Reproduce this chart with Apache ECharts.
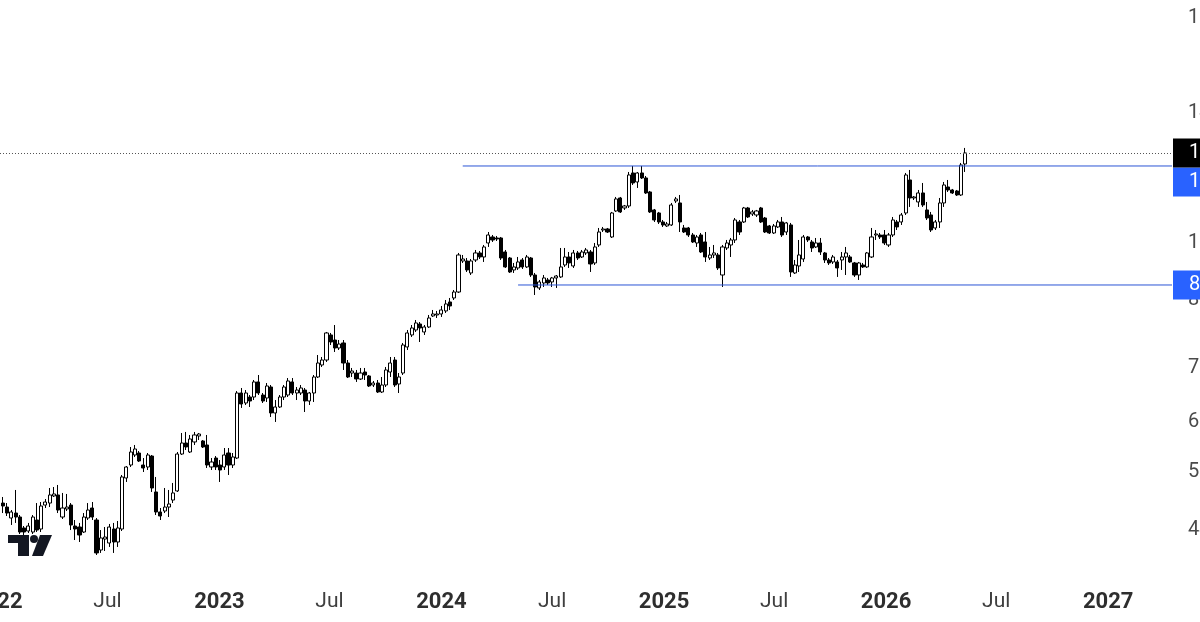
<!DOCTYPE html>
<html>
<head>
<meta charset="utf-8">
<title>Weekly candles</title>
<script src="https://cdn.jsdelivr.net/npm/echarts@6.0.0/dist/echarts.min.js"></script>
<style>
    html, body { margin: 0; padding: 0; background: #ffffff; }
    #chart { width: 1200px; height: 622px; }
</style>
</head>
<body>
<div id="chart"></div>
<script>
//--------------------------------
// Data (weekly bars, first bar = week of 2022-01-10)
//--------------------------------
const firstWeek = [2022, 0, 10];

const opens = [
    47.57, 47.03, 45.58, 46.23, 45.71, 44.30, 43.92, 43.79, 45.32, 44.17,
    47.30, 47.57, 48.54, 48.68, 45.71, 46.77, 47.30, 44.55, 44.42, 43.79,
    45.58, 46.90, 45.32, 41.60, 42.92, 42.44, 44.17, 42.56, 44.17, 51.10,
    53.03, 54.57, 54.88, 53.03, 52.73, 54.41, 49.10, 46.37, 46.50, 47.03,
    47.98, 49.24, 54.72, 56.47, 55.04, 56.64, 57.62, 56.80, 56.15, 52.73,
    54.10, 53.03, 52.73, 54.88, 53.03, 54.10, 65.14, 63.31, 64.40, 64.40,
    67.23, 64.77, 64.22, 66.27, 61.53, 62.59, 64.40, 64.77, 67.23, 65.14,
    65.14, 65.70, 63.67, 65.14, 68.19, 70.57, 71.58, 76.89, 75.79, 74.08,
    75.15, 70.97, 68.97, 68.97, 67.80, 69.17, 68.39, 66.65, 67.03, 65.33,
    66.65, 69.17, 71.58, 66.84, 68.97, 74.30, 76.89, 77.99, 79.34, 77.55,
    78.66, 81.18, 81.41, 81.64, 82.35, 84.49, 85.46, 86.93, 94.99, 94.99,
    91.79, 95.26, 97.19, 96.08, 100.00, 101.73, 101.44, 101.44, 97.46, 95.80,
    92.58, 93.11, 95.26, 93.38, 95.80, 91.26, 87.94, 89.20, 89.97, 89.46,
    90.49, 90.75, 93.91, 96.08, 93.64, 97.19, 96.08, 97.19, 97.46, 94.45,
    99.43, 103.78, 104.08, 101.73, 109.58, 113.72, 110.52, 111.15, 122.14, 119.04,
    122.14, 120.41, 115.69, 109.89, 108.95, 106.19, 104.98, 105.28, 112.75, 112.11,
    104.38, 104.38, 102.31, 100.00, 102.31, 100.29, 95.80, 96.63, 96.63, 91.26,
    98.58, 99.43, 100.86, 106.19, 106.19, 110.52, 108.64, 108.33, 110.52, 107.40,
    104.98, 102.90, 104.68, 106.19, 103.19, 105.28, 91.79, 93.64, 95.53, 101.73,
    100.29, 98.87, 100.00, 97.19, 95.26, 94.72, 94.72, 95.26, 96.08, 96.08,
    94.45, 91.26, 93.91, 93.38, 96.08, 102.31, 102.31, 102.31, 99.43, 102.31,
    106.19, 106.19, 108.95, 119.72, 113.72, 112.43, 115.36, 109.89, 108.33, 104.38,
    106.19, 112.11, 117.35, 116.35, 116.02, 114.70, 125.32
];
const closes = [
    47.17, 46.23, 46.37, 45.71, 43.79, 43.79, 44.55, 45.71, 44.04, 47.17,
    47.71, 48.68, 48.82, 46.63, 46.90, 47.03, 44.68, 44.17, 43.42, 45.71,
    46.63, 45.71, 41.25, 43.05, 43.17, 44.42, 42.56, 44.30, 51.25, 52.73,
    55.04, 55.51, 53.64, 52.58, 54.57, 49.66, 46.37, 45.84, 47.03, 47.44,
    48.96, 54.72, 56.47, 55.83, 57.12, 57.78, 57.94, 55.83, 53.03, 53.49,
    52.73, 52.28, 54.57, 53.03, 54.26, 65.14, 63.13, 65.14, 63.67, 67.23,
    65.14, 63.67, 66.46, 61.53, 62.59, 64.40, 66.27, 67.42, 65.14, 65.70,
    66.08, 63.67, 65.14, 68.19, 70.97, 71.58, 77.33, 75.36, 74.08, 74.93,
    70.97, 68.19, 69.37, 67.80, 68.97, 68.58, 66.46, 67.03, 65.33, 66.65,
    69.57, 70.97, 66.65, 68.19, 74.72, 77.33, 78.44, 79.57, 78.44, 78.66,
    80.71, 81.64, 81.64, 82.58, 84.01, 83.53, 86.93, 96.63, 95.53, 92.58,
    94.99, 97.19, 96.08, 98.87, 102.31, 100.86, 101.15, 95.80, 93.38, 92.05,
    93.38, 94.72, 93.38, 96.08, 91.26, 88.19, 89.46, 90.49, 89.20, 90.49,
    91.00, 93.38, 96.08, 94.45, 97.19, 95.80, 97.46, 98.02, 94.18, 98.87,
    103.19, 104.08, 103.19, 108.95, 113.40, 109.27, 111.15, 121.44, 118.70, 122.14,
    120.41, 115.36, 109.27, 106.79, 106.19, 105.28, 105.58, 111.47, 113.40, 106.19,
    103.19, 102.31, 100.29, 101.73, 97.46, 96.08, 96.63, 97.19, 93.11, 98.87,
    100.00, 100.86, 106.79, 103.19, 110.52, 107.71, 109.27, 109.58, 106.19, 103.19,
    102.90, 104.98, 106.19, 102.31, 105.89, 92.05, 93.91, 96.63, 101.73, 100.86,
    98.58, 100.00, 97.46, 95.26, 94.45, 96.08, 93.11, 96.08, 97.19, 94.72,
    91.26, 94.45, 93.38, 97.19, 101.73, 102.60, 101.73, 100.00, 102.31, 106.79,
    104.68, 108.33, 121.44, 113.72, 114.05, 115.36, 111.47, 107.40, 103.78, 106.19,
    112.11, 118.02, 116.35, 115.36, 114.70, 124.96, 129.33
];
const lows = [
    46.23, 45.84, 44.68, 44.94, 43.54, 43.42, 43.67, 43.54, 43.79, 43.79,
    46.90, 47.03, 48.40, 46.23, 45.45, 46.50, 44.04, 42.80, 42.56, 43.67,
    45.32, 45.32, 41.01, 41.25, 41.48, 41.96, 41.25, 41.96, 43.92, 50.52,
    52.73, 54.26, 53.49, 51.98, 52.28, 49.10, 45.97, 45.32, 46.23, 45.71,
    47.57, 49.10, 54.57, 55.35, 54.88, 56.15, 56.96, 55.67, 52.58, 52.28,
    52.28, 50.52, 52.28, 51.54, 52.58, 53.95, 62.42, 62.95, 62.59, 63.85,
    64.77, 63.31, 63.49, 60.83, 59.97, 62.42, 63.85, 64.40, 64.77, 63.85,
    64.77, 61.70, 62.95, 63.49, 67.99, 70.17, 71.18, 74.72, 73.24, 73.66,
    69.57, 67.99, 68.19, 67.23, 67.61, 67.61, 66.27, 66.27, 65.14, 65.14,
    66.27, 68.19, 66.27, 65.14, 68.58, 73.66, 76.45, 77.55, 75.36, 76.89,
    78.44, 80.95, 80.71, 80.95, 81.88, 82.58, 84.97, 86.69, 94.45, 92.05,
    91.26, 94.72, 95.53, 94.72, 98.87, 100.29, 100.57, 95.26, 93.11, 91.79,
    91.79, 92.58, 92.84, 93.11, 90.75, 86.19, 87.43, 88.19, 88.69, 88.19,
    87.94, 90.49, 93.38, 93.11, 93.11, 95.26, 95.80, 96.63, 92.05, 93.91,
    98.87, 103.19, 102.90, 101.44, 109.27, 108.95, 109.89, 110.52, 118.02, 117.02,
    120.06, 115.03, 108.95, 106.19, 105.58, 104.68, 104.68, 104.98, 112.11, 103.19,
    102.90, 101.73, 100.00, 98.87, 97.19, 94.72, 95.26, 95.80, 92.58, 88.19,
    98.02, 96.08, 100.00, 102.31, 105.89, 107.40, 108.02, 107.71, 105.89, 102.90,
    102.60, 102.60, 104.38, 101.73, 102.31, 90.75, 91.53, 92.05, 94.72, 100.29,
    97.46, 98.58, 96.63, 94.45, 93.91, 94.18, 90.75, 92.58, 91.26, 94.45,
    90.75, 89.97, 93.11, 93.11, 95.80, 100.86, 101.15, 99.43, 98.87, 101.73,
    103.78, 105.28, 108.33, 110.84, 113.07, 110.84, 110.84, 106.79, 103.19, 103.78,
    104.38, 110.84, 115.69, 115.03, 114.37, 114.37, 122.49
];
const highs = [
    48.40, 47.57, 46.63, 49.38, 45.97, 44.55, 44.94, 45.97, 47.57, 47.71,
    48.12, 49.66, 49.80, 50.09, 48.96, 48.82, 47.57, 45.32, 44.94, 46.23,
    47.57, 47.71, 45.58, 44.04, 44.42, 44.81, 44.94, 45.19, 51.54, 52.88,
    55.83, 56.15, 55.19, 54.10, 54.88, 54.57, 51.25, 46.90, 49.66, 49.38,
    50.38, 55.04, 58.11, 58.28, 57.78, 58.28, 58.11, 56.96, 57.78, 54.10,
    54.41, 53.79, 55.67, 55.67, 54.88, 65.51, 66.08, 65.70, 64.77, 67.61,
    68.58, 65.14, 67.03, 66.65, 63.85, 64.77, 66.65, 67.99, 67.99, 66.27,
    66.65, 66.08, 65.33, 68.58, 72.61, 72.20, 77.55, 77.33, 79.11, 75.79,
    75.79, 71.58, 69.97, 69.57, 69.97, 69.97, 68.58, 67.42, 67.61, 68.19,
    70.17, 72.20, 72.20, 68.97, 75.15, 77.99, 79.11, 80.25, 79.79, 79.11,
    81.41, 82.58, 82.35, 83.53, 84.97, 85.46, 87.43, 97.19, 96.63, 95.80,
    95.53, 98.02, 97.74, 99.43, 103.19, 102.31, 102.02, 101.73, 98.02, 96.08,
    94.45, 96.08, 95.80, 96.63, 96.08, 91.79, 89.97, 91.26, 90.49, 90.75,
    91.26, 98.58, 98.58, 97.46, 98.02, 97.74, 98.02, 98.58, 98.02, 100.00,
    104.38, 104.68, 104.38, 109.27, 114.05, 114.05, 111.47, 122.49, 124.61, 122.49,
    124.61, 121.09, 116.02, 110.20, 109.27, 106.79, 106.19, 112.11, 114.05, 114.70,
    105.28, 104.68, 102.90, 102.31, 102.90, 103.19, 98.87, 99.43, 97.19, 99.43,
    100.86, 101.44, 107.40, 106.79, 110.84, 110.84, 109.89, 109.89, 110.84, 107.71,
    105.28, 105.58, 106.79, 107.71, 106.19, 105.89, 95.26, 100.86, 102.31, 102.02,
    100.86, 101.44, 101.44, 97.46, 95.80, 96.63, 95.26, 97.46, 98.87, 96.63,
    94.72, 94.72, 94.45, 97.46, 104.38, 103.78, 102.90, 103.78, 102.90, 107.71,
    106.79, 108.95, 122.14, 123.19, 114.37, 116.35, 118.70, 112.43, 109.27, 106.79,
    113.72, 119.04, 119.72, 116.69, 116.35, 125.68, 131.19
];

// horizontal levels drawn on the chart
const resistanceLevel = 124.6;
const resistanceStart = [2024, 1, 5];
const supportLevel = 88.69;
const supportStart = [2024, 4, 6];

// axis labels
const priceTicks = [44, 52, 60, 70, 85, 100, 145, 190];
const timeTicks = [
    [2022, 0, 1], [2022, 6, 1], [2023, 0, 1], [2023, 6, 1], [2024, 0, 1], [2024, 6, 1],
    [2025, 0, 1], [2025, 6, 1], [2026, 0, 1], [2026, 6, 1], [2027, 0, 1]
];
const monthNames = ['Jan', 'Feb', 'Mar', 'Apr', 'May', 'Jun', 'Jul', 'Aug', 'Sep', 'Oct', 'Nov', 'Dec'];

// visible window
const xStart = [2021, 10, 17];
const xEnd = [2027, 3, 16];
const yMin = 37.64;
const yMax = 200.2;

//--------------------------------
// Build series data
//--------------------------------
const ts = (d) => new Date(d[0], d[1], d[2]).getTime();

const weekDates = opens.map((_, i) => ts([firstWeek[0], firstWeek[1], firstWeek[2] + 7 * i]));
const candles = opens.map((o, i) => [weekDates[i], o, closes[i], lows[i], highs[i]]);
const lastClose = closes[closes.length - 1];

const fontFamily = 'Roboto, "Liberation Sans", sans-serif';
const levelBlue = '#2962ff';
const levelLineColor = '#2b55d6';

const priceTag = (text, bg) => ({
    show: true,
    formatter: text,
    color: '#ffffff',
    backgroundColor: bg,
    fontSize: 20,
    fontFamily: fontFamily,
    lineHeight: 21,
    padding: [4, 8, 4, 16]
});

// one horizontal level as a two point line series
const levelSeries = (name, start, level, tagOffset) => ({
    name: name,
    type: 'line',
    silent: true,
    symbol: 'none',
    data: [[ts(start), level], [ts(xEnd), level]],
    lineStyle: { color: levelLineColor, width: 1 },
    itemStyle: { color: levelLineColor },
    endLabel: Object.assign(priceTag(level.toFixed(2), levelBlue), { distance: 1, offset: tagOffset })
});

//--------------------------------
// Chart
//--------------------------------
var myChart = echarts.init(document.getElementById('chart'));

let options = {
    animation: false,
    backgroundColor: '#ffffff',
    grid: {
        left: -30,
        right: 28,
        top: 0,
        bottom: 37,
        containLabel: false,
        outerBoundsMode: 'none'
    },
    xAxis: {
        type: 'value',
        min: ts(xStart),
        max: ts(xEnd),
        axisLine: { show: false },
        axisTick: { show: false },
        splitLine: { show: false },
        axisLabel: {
            customValues: timeTicks.map(ts),
            margin: 6,
            fontFamily: fontFamily,
            formatter: (value) => {
                const d = new Date(value);
                if (d.getMonth() === 0) {
                    return '{y|' + d.getFullYear() + '}';
                }
                return '{m|' + monthNames[d.getMonth()] + '}';
            },
            rich: {
                y: { fontSize: 22, fontWeight: 'bold', color: '#2e2e2e', fontFamily: fontFamily },
                m: { fontSize: 21, color: '#3f3f3f', fontFamily: fontFamily }
            }
        }
    },
    yAxis: {
        type: 'log',
        position: 'right',
        min: yMin,
        max: yMax,
        axisLine: { show: false },
        axisTick: { show: false },
        splitLine: { show: false },
        axisLabel: {
            customValues: priceTicks,
            margin: 16,
            fontSize: 20,
            color: '#4a4a4a',
            fontFamily: fontFamily,
            formatter: (v) => Number(v).toFixed(2)
        }
    },
    series: [
        levelSeries('resistance', resistanceStart, resistanceLevel, [0, 16]),
        levelSeries('support', supportStart, supportLevel, [0, 0]),
        {
            name: 'price',
            type: 'candlestick',
            data: candles,
            barWidth: 3.6,
            itemStyle: {
                color: '#ffffff',
                color0: '#000000',
                borderColor: '#000000',
                borderColor0: '#000000',
                borderWidth: 1
            },
            markLine: {
                silent: true,
                symbol: ['none', 'none'],
                animation: false,
                data: [
                    {
                        yAxis: lastClose,
                        lineStyle: { color: '#555555', width: 1, type: [1, 2] },
                        label: Object.assign(priceTag(lastClose.toFixed(2), '#000000'), { position: 'end', distance: 1 })
                    }
                ]
            }
        }
    ],
    // TradingView mark, bottom left
    graphic: [
        {
            type: 'polygon',
            shape: { points: [[8, 535], [29, 535], [29, 556], [18, 556], [18, 543], [8, 543]] },
            style: { fill: '#131722' }
        },
        {
            type: 'circle',
            shape: { cx: 34, cy: 539, r: 4 },
            style: { fill: '#131722' }
        },
        {
            type: 'polygon',
            shape: { points: [[40, 535], [52, 535], [43, 556], [32, 556]] },
            style: { fill: '#131722' }
        }
    ]
};

myChart.setOption(options);
</script>
</body>
</html>
